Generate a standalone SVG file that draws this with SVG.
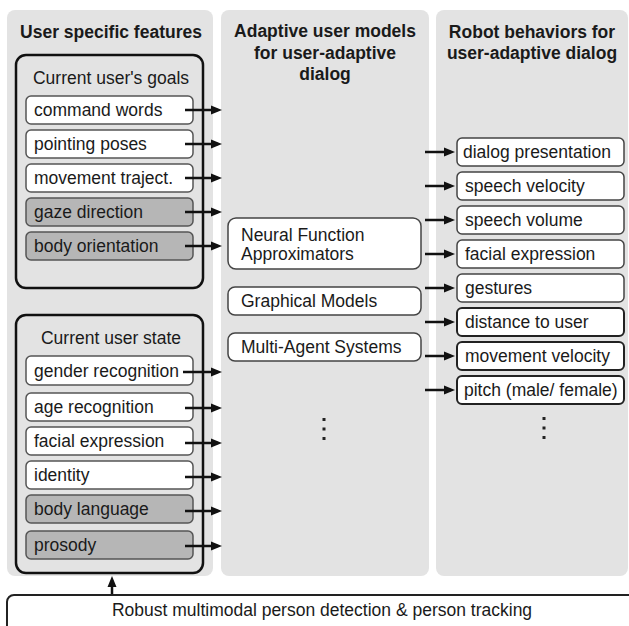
<svg xmlns="http://www.w3.org/2000/svg" width="629" height="626" viewBox="0 0 629 626">
<style>
text{font-family:"Liberation Sans",Arial,sans-serif;font-size:17.5px;fill:#1a1a1a}
.h{font-weight:bold;text-anchor:middle}
.panel{fill:#e3e3e3}
.grp{fill:none;stroke:#111;stroke-width:2.5}
.it{fill:#fff;stroke:#555;stroke-width:1.5}
.gr{fill:#b6b6b6;stroke:#555;stroke-width:1.5}
.mb{fill:#fff;stroke:#444;stroke-width:1.5}
.rb{fill:#fff;stroke:#444;stroke-width:1.5}
.rbd{fill:#fff;stroke:#222;stroke-width:2}
.ar{stroke:#111;stroke-width:2.5;fill:none;marker-end:url(#ah)}
.dot{fill:#222}
</style>
<defs>
<marker id="ah" markerWidth="11" markerHeight="10" refX="7" refY="5" orient="auto" markerUnits="userSpaceOnUse">
<path d="M0,0.5 L11,5 L0,9.5 z" fill="#111"/>
</marker>
</defs>
<rect width="629" height="626" fill="#fff"/>
<g id="panels">
<rect class="panel" x="7" y="10" width="206" height="566" rx="8"/>
<rect class="panel" x="221" y="10" width="208" height="566" rx="8"/>
<rect class="panel" x="436" y="10" width="192" height="566" rx="8"/>
<text class="h" x="111" y="38">User specific features</text>
<text class="h" x="325" y="37">Adaptive user models</text>
<text class="h" x="325" y="58.5">for user-adaptive</text>
<text class="h" x="325" y="80">dialog</text>
<text class="h" x="532" y="38">Robot behaviors for</text>
<text class="h" x="532" y="59">user-adaptive dialog</text>
</g>
<g id="goals">
<rect class="grp" x="16" y="55" width="187" height="233" rx="10"/>
<text x="111" y="84" text-anchor="middle">Current user's goals</text>
</g>
<g id="command-words"><rect class="it" x="26" y="96" width="167" height="28" rx="5"/><text x="34" y="116">command words</text></g>
<g id="pointing-poses"><rect class="it" x="26" y="130" width="167" height="28" rx="5"/><text x="34" y="150">pointing poses</text></g>
<g id="movement-traject"><rect class="it" x="26" y="164" width="167" height="28" rx="5"/><text x="34" y="184">movement traject.</text></g>
<g id="gaze-direction"><rect class="gr" x="26" y="198" width="167" height="28" rx="5"/><text x="34" y="218">gaze direction</text></g>
<g id="body-orientation"><rect class="gr" x="26" y="232" width="167" height="28" rx="5"/><text x="34" y="252">body orientation</text></g>
<g id="state">
<rect class="grp" x="16" y="315" width="187" height="258" rx="10"/>
<text x="111" y="344" text-anchor="middle">Current user state</text>
</g>
<g id="gender-recognition"><rect class="it" x="26" y="356" width="167" height="29" rx="5"/><text x="34" y="377">gender recognition</text></g>
<g id="age-recognition"><rect class="it" x="26" y="393" width="167" height="28" rx="5"/><text x="34" y="413">age recognition</text></g>
<g id="facial-expression-in"><rect class="it" x="26" y="427" width="167" height="28" rx="5"/><text x="34" y="447">facial expression</text></g>
<g id="identity"><rect class="it" x="26" y="461" width="167" height="28" rx="5"/><text x="34" y="481">identity</text></g>
<g id="body-language"><rect class="gr" x="26" y="495" width="167" height="28" rx="5"/><text x="34" y="515">body language</text></g>
<g id="prosody"><rect class="gr" x="26" y="531" width="167" height="28" rx="5"/><text x="34" y="551">prosody</text></g>
<g id="neural"><rect class="mb" x="228" y="218" width="193" height="51" rx="8"/><text x="241" y="240.5">Neural Function</text><text x="241" y="259.5">Approximators</text></g>
<g id="graphical"><rect class="mb" x="228" y="287" width="193" height="28" rx="7"/><text x="241" y="307">Graphical Models</text></g>
<g id="multiagent"><rect class="mb" x="228" y="333" width="193" height="28" rx="7"/><text x="241" y="353">Multi-Agent Systems</text></g>
<g id="mid-dots"><rect class="dot" x="322.5" y="418" width="3" height="3"/><rect class="dot" x="322.5" y="427.5" width="3" height="3"/><rect class="dot" x="322.5" y="437" width="3" height="3"/></g>
<g id="dialog-presentation"><rect class="rb" x="457" y="138" width="167" height="28" rx="5"/><text x="463" y="158">dialog presentation</text></g>
<g id="speech-velocity"><rect class="rb" x="457" y="172" width="167" height="28" rx="5"/><text x="465" y="192">speech velocity</text></g>
<g id="speech-volume"><rect class="rb" x="457" y="206" width="167" height="28" rx="5"/><text x="465" y="226">speech volume</text></g>
<g id="facial-expression-out"><rect class="rb" x="457" y="240" width="167" height="28" rx="5"/><text x="465" y="260">facial expression</text></g>
<g id="gestures"><rect class="rb" x="457" y="274" width="167" height="28" rx="5"/><text x="465" y="294">gestures</text></g>
<g id="distance-to-user"><rect class="rbd" x="457" y="308" width="167" height="28" rx="5"/><text x="465" y="328">distance to user</text></g>
<g id="movement-velocity"><rect class="rbd" x="457" y="342" width="167" height="28" rx="5"/><text x="465" y="362">movement velocity</text></g>
<g id="pitch"><rect class="rbd" x="457" y="376" width="167" height="28" rx="5"/><text x="464" y="396">pitch (male/ female)</text></g>
<g id="right-dots"><rect class="dot" x="542.5" y="417" width="3" height="3"/><rect class="dot" x="542.5" y="426.5" width="3" height="3"/><rect class="dot" x="542.5" y="436" width="3" height="3"/></g>
<g id="tracking"><rect x="7" y="595" width="640" height="45" rx="7" fill="#fff" stroke="#222" stroke-width="2"/><text x="322" y="616" text-anchor="middle">Robust multimodal person detection &amp; person tracking</text></g>
<g id="connectors">
<line class="ar" x1="185" y1="110" x2="218" y2="110"/>
<line class="ar" x1="185" y1="144" x2="218" y2="144"/>
<line class="ar" x1="185" y1="178" x2="218" y2="178"/>
<line class="ar" x1="185" y1="212" x2="218" y2="212"/>
<line class="ar" x1="185" y1="246" x2="218" y2="246"/>
<line class="ar" x1="183" y1="372" x2="218" y2="372"/>
<line class="ar" x1="185" y1="408" x2="218" y2="408"/>
<line class="ar" x1="185" y1="443" x2="218" y2="443"/>
<line class="ar" x1="185" y1="477" x2="218" y2="477"/>
<line class="ar" x1="185" y1="511" x2="218" y2="511"/>
<line class="ar" x1="185" y1="546" x2="218" y2="546"/>
<line class="ar" x1="425" y1="152" x2="451" y2="152"/>
<line class="ar" x1="425" y1="186" x2="451" y2="186"/>
<line class="ar" x1="425" y1="220" x2="451" y2="220"/>
<line class="ar" x1="425" y1="254" x2="451" y2="254"/>
<line class="ar" x1="425" y1="288" x2="451" y2="288"/>
<line class="ar" x1="425" y1="322" x2="451" y2="322"/>
<line class="ar" x1="425" y1="356" x2="451" y2="356"/>
<line class="ar" x1="425" y1="390" x2="451" y2="390"/>
<line class="ar" x1="112" y1="594" x2="112" y2="580"/>
</g>
</svg>
